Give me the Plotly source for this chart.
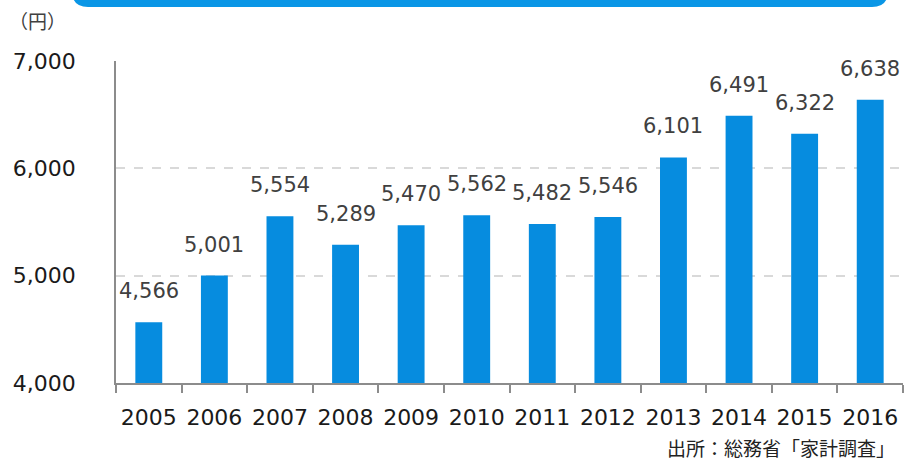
import plotly.graph_objects as go

# Monthly spending (yen), 2005-2016
years = ["2005", "2006", "2007", "2008", "2009", "2010",
         "2011", "2012", "2013", "2014", "2015", "2016"]
values = [4566, 5001, 5554, 5289, 5470, 5562, 5482, 5546, 6101, 6491, 6322, 6638]
y_ticks = [4000, 5000, 6000, 7000]
y_tick_text = ["4,000", "5,000", "6,000", "7,000"]

W, H = 913, 460
L, R, T, B = 116, 10, 61, 77
BAR = "#068CDF"
NUM_FONT = "DejaVu Sans, Verdana, sans-serif"
JP_FONT = "Noto Sans CJK JP, sans-serif"


def px_x(x):
    return (x - L) / (W - L - R)


def px_y(y):
    return (H - B - y) / (H - T - B)


fig = go.Figure(go.Bar(
    x=years, y=values, width=0.41,
    marker=dict(color=BAR, line=dict(width=0)),
    hoverinfo="skip",
))

# value labels above each bar (category index as x position)
for i, v in enumerate(values):
    fig.add_annotation(
        x=i, y=v, text=f"{v:,}", showarrow=False,
        yanchor="bottom", yshift=17,
        font=dict(family=NUM_FONT, size=21, color="#404040"),
    )

# unit label
fig.add_annotation(
    xref="paper", yref="paper", x=px_x(37), y=px_y(21),
    text="（円）", showarrow=False, xanchor="center", yanchor="middle",
    font=dict(family=JP_FONT, size=19, color="#404040"),
)

# source note
fig.add_annotation(
    xref="paper", yref="paper", x=px_x(897), y=px_y(447),
    text="出所：総務省「家計調査」", showarrow=False,
    xanchor="right", yanchor="middle",
    font=dict(family=JP_FONT, size=19, color="#222222"),
)

# banner strip along the top edge (rounded bottom corners)
x0, x1, yb, rad = 72, 888, 7, 16
ytop = -40
path = (
    f"M {px_x(x0)},{px_y(ytop)} "
    f"L {px_x(x0)},{px_y(yb - rad)} "
    f"Q {px_x(x0)},{px_y(yb)} {px_x(x0 + rad)},{px_y(yb)} "
    f"L {px_x(x1 - rad)},{px_y(yb)} "
    f"Q {px_x(x1)},{px_y(yb)} {px_x(x1)},{px_y(yb - rad)} "
    f"L {px_x(x1)},{px_y(ytop)} Z"
)
fig.add_shape(type="path", path=path, xref="paper", yref="paper",
              fillcolor="#0A96E6", line=dict(width=0), layer="above")

fig.update_layout(
    width=W, height=H,
    margin=dict(l=L, r=R, t=T, b=B, pad=0),
    paper_bgcolor="white", plot_bgcolor="white",
    showlegend=False,
    xaxis=dict(
        type="category", tickson="boundaries",
        range=[-0.5, len(years) - 0.5],
        ticks="outside", ticklen=8, tickwidth=1.5, tickcolor="#8c8c8c",
        showline=True, linecolor="#8c8c8c", linewidth=1.5,
        showgrid=False, tickangle=0,
        tickfont=dict(family=NUM_FONT, size=22, color="#1a1a1a"),
        ticklabelstandoff=14,
    ),
    yaxis=dict(
        range=[4000, 7000], tickvals=y_ticks, ticktext=y_tick_text,
        showline=True, linecolor="#8c8c8c", linewidth=1.5,
        showgrid=True, gridcolor="#d9d9d9", gridwidth=1.5, griddash="dash",
        zeroline=False, ticks="",
        tickfont=dict(family=NUM_FONT, size=22, color="#1a1a1a"),
        ticklabelstandoff=34,
    ),
)

fig.write_html("out.html")
